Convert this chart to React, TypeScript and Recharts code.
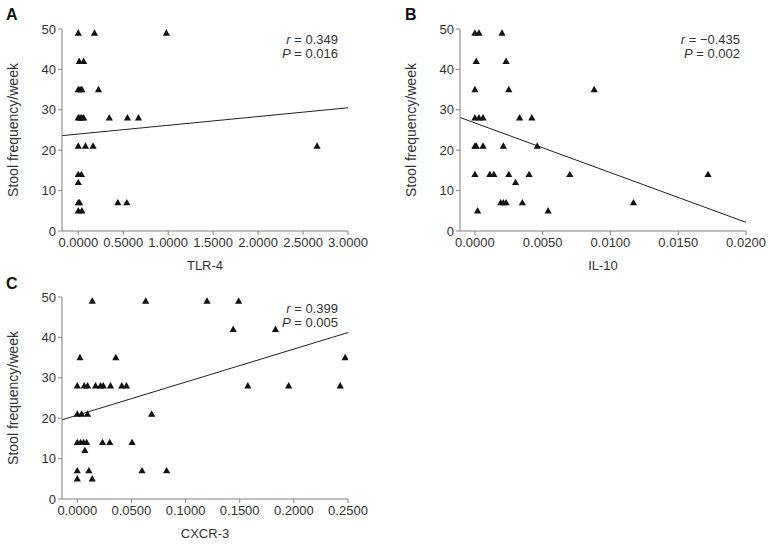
import React from "react";
import { ScatterChart, Scatter, XAxis, YAxis, ReferenceLine } from "recharts";

// stool frequency per week (same scale on all panels)
const yTicks = [0, 10, 20, 30, 40, 50];

// A: TLR-4
const tlr4X = [0.0, 0.18, 0.98, 0.01, 0.06, 0.0, 0.02, 0.04, 0.225, 0.0, 0.02, 0.04, 0.06, 0.345, 0.547, 0.67, 0.0, 0.08, 0.165, 2.656, 0.0, 0.035, 0.0, 0.0, 0.015, 0.44, 0.54, 0.0, 0.04];
const tlr4Y = [49, 49, 49, 42, 42, 35, 35, 35, 35, 28, 28, 28, 28, 28, 28, 28, 21, 21, 21, 21, 14, 14, 12, 7, 7, 7, 7, 5, 5];
const tlr4Ticks = [0, 0.5, 1, 1.5, 2, 2.5, 3];
const tlr4Fit = [{ x: -0.181, y: 23.6 }, { x: 3.0, y: 30.5 }];

// B: IL-10
const il10X = [0.0, 0.0003, 0.002, 0.0001, 0.0023, 0.0, 0.0025, 0.0088, 0.0, 0.0003, 0.0006, 0.0033, 0.0042, 0.0, 0.0001, 0.0006, 0.0021, 0.0046, 0.0, 0.0011, 0.0014, 0.0025, 0.004, 0.007, 0.0172, 0.003, 0.0019, 0.0021, 0.0023, 0.0035, 0.0117, 0.0002, 0.0054];
const il10Y = [49, 49, 49, 42, 42, 35, 35, 35, 28, 28, 28, 28, 28, 21, 21, 21, 21, 21, 14, 14, 14, 14, 14, 14, 14, 12, 7, 7, 7, 7, 7, 5, 5];
const il10Ticks = [0, 0.005, 0.01, 0.015, 0.02];
const il10Fit = [{ x: -0.0011, y: 28.1 }, { x: 0.02, y: 2.15 }];

// C: CXCR-3
const cxcr3X = [0.0138, 0.0632, 0.1198, 0.149, 0.144, 0.183, 0.0025, 0.0356, 0.2474, 0.0, 0.0064, 0.0095, 0.0169, 0.0215, 0.024, 0.0307, 0.0411, 0.0454, 0.1575, 0.1952, 0.2428, 0.0, 0.004, 0.0095, 0.0687, 0.0, 0.003, 0.0058, 0.0086, 0.0233, 0.03, 0.0506, 0.007, 0.0, 0.0107, 0.0598, 0.0825, 0.0, 0.0138];
const cxcr3Y = [49, 49, 49, 49, 42, 42, 35, 35, 35, 28, 28, 28, 28, 28, 28, 28, 28, 28, 28, 28, 28, 21, 21, 21, 21, 14, 14, 14, 14, 14, 14, 14, 12, 7, 7, 7, 7, 5, 5];
const cxcr3Ticks = [0, 0.05, 0.1, 0.15, 0.2, 0.25];
const cxcr3Fit = [{ x: -0.0141, y: 19.6 }, { x: 0.25, y: 41.2 }];

const FONT = "'Liberation Sans Narrow', 'Liberation Sans', Arial, sans-serif";
const TEXT = "#333";
const AXIS = "#808080";

const Tri = (props: any) => {
  const { cx, cy } = props;
  if (cx == null || cy == null) return null;
  return <polygon points={`${cx},${cy - 3.8} ${cx - 3.6},${cy + 2.6} ${cx + 3.6},${cy + 2.6}`} fill="#111" />;
};

type PanelProps = {
  xs: number[];
  ys: number[];
  fit: { x: number; y: number }[];
  domain: [number, number];
  ticks: number[];
  xLabel: string;
  width: number;
  right: number;
};

const Panel = ({ xs, ys, fit, domain, ticks, xLabel, width, right }: PanelProps) => {
  const data = xs.map((x, i) => ({ x, y: ys[i] }));
  const tickStyle = { fontSize: 13, fill: TEXT, fontFamily: FONT };
  return (
    <ScatterChart width={width} height={285} margin={{ top: 29, right, bottom: 4, left: 0 }}>
      <XAxis
        type="number"
        dataKey="x"
        domain={domain}
        ticks={ticks}
        allowDataOverflow
        tickFormatter={(v: number) => v.toFixed(4)}
        tick={tickStyle}
        tickSize={4}
        tickMargin={3}
        height={50}
        stroke={AXIS}
        label={{
          content: (p: any) => {
            const vb = p.viewBox || {};
            return (
              <text x={vb.x + vb.width / 2} y={vb.y + 39} textAnchor="middle" fontSize={13} fill={TEXT} fontFamily={FONT}>
                {xLabel}
              </text>
            );
          },
        }}
      />
      <YAxis
        type="number"
        dataKey="y"
        domain={[0, 50]}
        ticks={yTicks}
        allowDataOverflow
        tick={tickStyle}
        tickSize={4}
        tickMargin={2}
        width={62}
        stroke={AXIS}
        label={{
          content: (p: any) => {
            const vb = p.viewBox || {};
            const cx = vb.x + 13;
            const cy = vb.y + vb.height / 2;
            return (
              <text x={cx} y={cy} transform={`rotate(-90 ${cx} ${cy})`} textAnchor="middle" dominantBaseline="central" fontSize={14} fill={TEXT} fontFamily={FONT}>
                Stool frequency/week
              </text>
            );
          },
        }}
      />
      <ReferenceLine segment={fit} stroke="#222" strokeWidth={1} />
      <Scatter data={data} shape={<Tri />} isAnimationActive={false} />
    </ScatterChart>
  );
};

const Stat = ({ right, top, r, p }: { right: number; top: number; r: string; p: string }) => (
  <div style={{ position: "absolute", left: right - 120, top, width: 120, textAlign: "right", fontFamily: FONT, fontSize: 13, lineHeight: "14px", color: TEXT }}>
    <div><i>r</i> = {r}</div>
    <div><i>P</i> = {p}</div>
  </div>
);

const Letter = ({ left, top, children }: { left: number; top: number; children: string }) => (
  <div style={{ position: "absolute", left, top, fontFamily: "'Liberation Sans', Arial, sans-serif", fontWeight: "bold", fontSize: 16, lineHeight: "16px", color: "#111" }}>
    {children}
  </div>
);

export default function App() {
  return (
    <div style={{ position: "absolute", left: 0, top: 0, width: 771, height: 544, background: "#fff" }}>
      <div style={{ position: "absolute", left: 0, top: 0 }}>
        <Panel xs={tlr4X} ys={tlr4Y} fit={tlr4Fit} domain={[-0.181, 3]} ticks={tlr4Ticks} xLabel="TLR-4" width={370} right={22} />
      </div>
      <div style={{ position: "absolute", left: 398, top: 0 }}>
        <Panel xs={il10X} ys={il10Y} fit={il10Fit} domain={[-0.0011, 0.02]} ticks={il10Ticks} xLabel="IL-10" width={370} right={22} />
      </div>
      <div style={{ position: "absolute", left: 0, top: 268 }}>
        <Panel xs={cxcr3X} ys={cxcr3Y} fit={cxcr3Fit} domain={[-0.0141, 0.25]} ticks={cxcr3Ticks} xLabel="CXCR-3" width={370} right={22} />
      </div>
      <Letter left={6} top={7}>A</Letter>
      <Letter left={405} top={7}>B</Letter>
      <Letter left={6} top={276}>C</Letter>
      <Stat right={338} top={33} r="0.349" p="0.016" />
      <Stat right={740} top={33} r={"\u22120.435"} p="0.002" />
      <Stat right={338} top={302} r="0.399" p="0.005" />
    </div>
  );
}
